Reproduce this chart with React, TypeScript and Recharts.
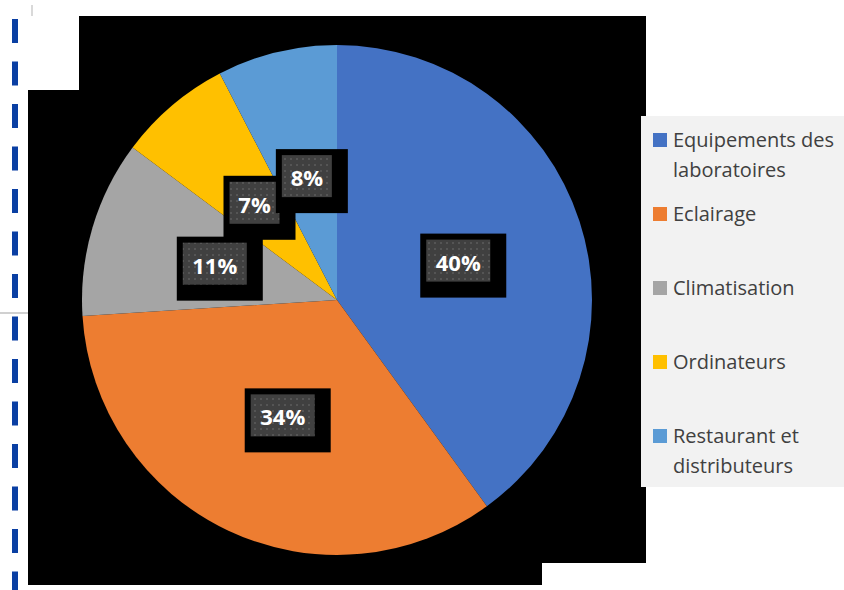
import { Cell, Legend, Pie, PieChart } from 'recharts';

const categories = [
  'Equipements des laboratoires',
  'Eclairage',
  'Climatisation',
  'Ordinateurs',
  'Restaurant et distributeurs',
];
// shares (labels show them rounded)
const shares = [40.0, 34.0, 11.2, 7.2, 7.6];
const sliceColors = ['#4472C4', '#ED7D31', '#A5A5A5', '#FFC000', '#5B9BD5'];

const data = categories.map((name, i) => ({ name, value: shares[i] }));

const RAD = Math.PI / 180;

const renderLabel = (props: any) => {
  const { cx, cy, midAngle, outerRadius, percent } = props;
  const r = outerRadius * 0.5;
  const x = cx + r * Math.cos(-midAngle * RAD);
  const y = cy + r * Math.sin(-midAngle * RAD);
  const text = `${Math.round(percent * 100)}%`;
  const w = text.length * 14 + 22;
  const h = 42;
  return (
    <g>
      <rect x={x - w / 2 - 6} y={y - h / 2 - 6} width={w + 22} height={h + 22} fill="#000" />
      <rect x={x - w / 2} y={y - h / 2} width={w} height={h} fill="url(#dots)" />
      <text
        x={x}
        y={y + 1}
        fill="#fff"
        textAnchor="middle"
        dominantBaseline="central"
        fontFamily="'Open Sans', sans-serif"
        fontWeight={700}
        fontSize={22}
      >
        {text}
      </text>
    </g>
  );
};

const renderLegend = (props: any) => {
  const payload = [...(props.payload || [])].sort(
    (a: any, b: any) => categories.indexOf(a.value) - categories.indexOf(b.value)
  );
  return (
    <div
      style={{
        width: 203,
        height: 371,
        background: '#F2F2F2',
        boxSizing: 'border-box',
        paddingTop: 9,
        fontFamily: "'Open Sans', sans-serif",
        fontSize: 20,
        lineHeight: '30px',
        color: '#404040',
      }}
    >
      {payload.map((entry: any) => (
        <div key={entry.value} style={{ height: 74, display: 'flex', alignItems: 'flex-start' }}>
          <span
            style={{
              display: 'inline-block',
              width: 14,
              height: 14,
              background: entry.color,
              marginLeft: 12,
              marginTop: 8,
              marginRight: 6,
              flex: 'none',
            }}
          />
          <span style={{ width: 172 }}>{entry.value}</span>
        </div>
      ))}
    </div>
  );
};

export default function App() {
  return (
    <div style={{ position: 'absolute', left: 0, top: 0, width: 844, height: 590, background: '#fff', overflow: 'hidden' }}>
      <svg width={844} height={590} style={{ position: 'absolute', left: 0, top: 0 }}>
        <polygon points="79,16 646,16 646,563 542,563 542,585 28,585 28,90 79,90" fill="#000" />
        <line x1={15} y1={19} x2={15} y2={590} stroke="#0A3FA3" strokeWidth={6} strokeDasharray="24 18.5" />
        <line x1={32} y1={5} x2={32} y2={16} stroke="#D9D9D9" strokeWidth={2} />
        <line x1={0} y1={313} x2={28} y2={313} stroke="#D0D0D0" strokeWidth={2} />
      </svg>
      <div style={{ position: 'absolute', left: 0, top: 0 }}>
        <PieChart width={844} height={590} margin={{ top: 0, right: 0, bottom: 0, left: 0 }}>
          <defs>
            <pattern id="dots" width={6} height={6} patternUnits="userSpaceOnUse">
              <rect width={6} height={6} fill="#404040" />
              <rect x={2} y={2} width={2} height={2} fill="#555555" />
            </pattern>
          </defs>
          <Pie
            data={data}
            dataKey="value"
            nameKey="name"
            cx={337}
            cy={300}
            outerRadius={255}
            startAngle={90}
            endAngle={-270}
            stroke="none"
            label={renderLabel}
            labelLine={false}
            isAnimationActive={false}
          >
            {data.map((d, i) => (
              <Cell key={d.name} fill={sliceColors[i]} />
            ))}
          </Pie>
          <Legend
            content={renderLegend}
            wrapperStyle={{ position: 'absolute', left: 641, top: 116, width: 203, height: 371 }}
          />
        </PieChart>
      </div>
    </div>
  );
}
